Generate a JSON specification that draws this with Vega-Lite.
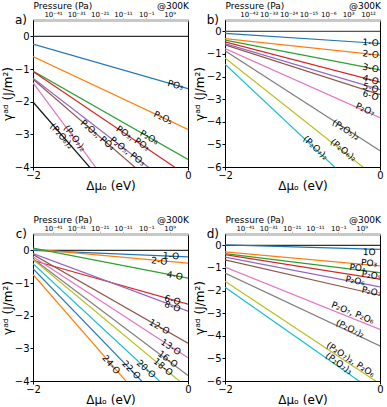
{
"$schema":"https://vega.github.io/schema/vega-lite/v6.json",
"padding":{"left":0,"top":0,"right":0,"bottom":0},
"columns":2,
"spacing":{"row":22,"column":0},
"resolve":{"scale":{"x":"independent","y":"independent","color":"independent","angle":"independent"}},
"config":{"font":"DejaVu Sans","view":{"stroke":"black","strokeWidth":1},
 "axis":{"grid":false,"labelFontSize":10,"titleFontSize":12,"titleFontWeight":"normal","tickColor":"black","domainColor":"black","labelColor":"black","titleColor":"black","labelFlush":false,"tickSize":3},
 "axisY":{"labelPadding":1,"titlePadding":0},
 "text":{"color":"black"}},
"datasets":{
"la":[
{"s":"zero","x":-2,"g":0},{"s":"zero","x":0,"g":0},
{"s":"PO₃","x":-2,"g":-0.24},{"s":"PO₃","x":0,"g":-1.6},
{"s":"P₂O₅","x":-2,"g":-0.62},{"s":"P₂O₅","x":0,"g":-2.85},
{"s":"P₂O₆","x":-2,"g":-1.06},{"s":"P₂O₆","x":0,"g":-3.77},
{"s":"PO₃, PO₃","x":-2,"g":-1.08},{"s":"PO₃, PO₃","x":0,"g":-4.28},
{"s":"P₂O₅, PO₃","x":-2,"g":-1.28},{"s":"P₂O₅, PO₃","x":0,"g":-4.94},
{"s":"P₂O₅, PO₄","x":-2,"g":-1.31},{"s":"P₂O₅, PO₄","x":0,"g":-5.41},
{"s":"(P₂O₇)₂","x":-2,"g":-1.42},{"s":"(P₂O₇)₂","x":0,"g":-7.82},
{"s":"(P₂O₆)₂","x":-2,"g":-2.01},{"s":"(P₂O₆)₂","x":0,"g":-7.47}],
"ta":[
{"t":"PO₃","x":-0.16,"g":-1.49,"k":-0.68},
{"t":"P₂O₅","x":-0.32,"g":-2.49,"k":-1.115},
{"t":"P₂O₆","x":-0.5,"g":-3.09,"k":-1.355},
{"t":"PO₃, PO₃","x":-0.71,"g":-3.12,"k":-1.6},
{"t":"P₂O₅, PO₃","x":-0.78,"g":-3.52,"k":-1.83},
{"t":"P₂O₅, PO₄","x":-1.165,"g":-3.02,"k":-2.05},
{"t":"(P₂O₇)₂","x":-1.46,"g":-3.12,"k":-3.2},
{"t":"(P₂O₆)₂","x":-1.63,"g":-3.05,"k":-2.73}],
"lb":[
{"s":"zero","x":-2,"g":0},{"s":"zero","x":0,"g":0},
{"s":"1-O","x":-2,"g":-0.09},{"s":"1-O","x":0,"g":-0.54},
{"s":"2-O","x":-2,"g":-0.32},{"s":"2-O","x":0,"g":-1.05},
{"s":"3-O","x":-2,"g":-0.39},{"s":"3-O","x":0,"g":-1.71},
{"s":"4-O","x":-2,"g":-0.47},{"s":"4-O","x":0,"g":-2.25},
{"s":"5-O","x":-2,"g":-0.54},{"s":"5-O","x":0,"g":-2.58},
{"s":"6-O","x":-2,"g":-0.6},{"s":"6-O","x":0,"g":-2.8},
{"s":"P₂O₇","x":-2,"g":-0.76},{"s":"P₂O₇","x":0,"g":-3.82},
{"s":"(P₂O₅)₂","x":-2,"g":-0.86},{"s":"(P₂O₅)₂","x":0,"g":-5.28},
{"s":"(P₂O₆)₂","x":-2,"g":-1.18},{"s":"(P₂O₆)₂","x":0,"g":-6.6},
{"s":"(P₂O₇)₂","x":-2,"g":-1.45},{"s":"(P₂O₇)₂","x":0,"g":-7.89}],
"tb":[
{"t":"1-O","x":-0.12,"g":-0.5,"k":-0.225},
{"t":"2-O","x":-0.12,"g":-1.01,"k":-0.365},
{"t":"3-O","x":-0.12,"g":-1.63,"k":-0.66},
{"t":"4-O","x":-0.12,"g":-2.14,"k":-0.89},
{"t":"5-O","x":-0.12,"g":-2.5,"k":-1.02},
{"t":"6-O","x":-0.12,"g":-2.83,"k":-1.1},
{"t":"P₂O₇","x":-0.19,"g":-3.45,"k":-1.53},
{"t":"(P₂O₅)₂","x":-0.44,"g":-4.35,"k":-2.21},
{"t":"(P₂O₆)₂","x":-0.47,"g":-5.25,"k":-2.71},
{"t":"(P₂O₇)₂","x":-0.83,"g":-5.15,"k":-3.22}],
"lc":[
{"s":"zero","x":-2,"g":0},{"s":"zero","x":0,"g":0},
{"s":"1-O","x":-2,"g":0.0},{"s":"1-O","x":0,"g":-0.2},
{"s":"2-O","x":-2,"g":0.04},{"s":"2-O","x":0,"g":-0.39},
{"s":"4-O","x":-2,"g":0.07},{"s":"4-O","x":0,"g":-0.85},
{"s":"6-O","x":-2,"g":-0.31},{"s":"6-O","x":0,"g":-1.65},
{"s":"8-O","x":-2,"g":-0.1},{"s":"8-O","x":0,"g":-1.86},
{"s":"12-O","x":-2,"g":-0.13},{"s":"12-O","x":0,"g":-2.84},
{"s":"13-O","x":-2,"g":-0.2},{"s":"13-O","x":0,"g":-3.29},
{"s":"16-O","x":-2,"g":-0.26},{"s":"16-O","x":0,"g":-3.83},
{"s":"18-O","x":-2,"g":-0.28},{"s":"18-O","x":0,"g":-4.22},
{"s":"20-O","x":-2,"g":-0.41},{"s":"20-O","x":0,"g":-4.81},
{"s":"22-O","x":-2,"g":-0.56},{"s":"22-O","x":0,"g":-5.47},
{"s":"24-O","x":-2,"g":-0.74},{"s":"24-O","x":0,"g":-6.18}],
"tc":[
{"t":"1-O","x":-0.22,"g":-0.17,"k":-0.1},
{"t":"2-O","x":-0.37,"g":-0.33,"k":-0.215},
{"t":"4-O","x":-0.17,"g":-0.77,"k":-0.46},
{"t":"6-O","x":-0.2,"g":-1.52,"k":-0.67},
{"t":"8-O","x":-0.2,"g":-1.72,"k":-0.88},
{"t":"12-O","x":-0.37,"g":-2.34,"k":-1.355},
{"t":"13-O","x":-0.22,"g":-2.96,"k":-1.545},
{"t":"16-O","x":-0.26,"g":-3.33,"k":-1.785},
{"t":"18-O","x":-0.32,"g":-3.57,"k":-1.97},
{"t":"20-O","x":-0.54,"g":-3.63,"k":-2.2},
{"t":"22-O","x":-0.73,"g":-3.66,"k":-2.46},
{"t":"24-O","x":-0.99,"g":-3.5,"k":-2.72}],
"ld":[
{"s":"zero","x":-2,"g":0},{"s":"zero","x":0,"g":0},
{"s":"1O","x":-2,"g":0.02},{"s":"1O","x":0,"g":-0.18},
{"s":"PO₃","x":-2,"g":-0.29},{"s":"PO₃","x":0,"g":-0.91},
{"s":"PO₄","x":-2,"g":-0.37},{"s":"PO₄","x":0,"g":-1.21},
{"s":"P₂O₅","x":-2,"g":-0.41},{"s":"P₂O₅","x":0,"g":-1.5},
{"s":"P₂O₆","x":-2,"g":-0.52},{"s":"P₂O₆","x":0,"g":-1.84},
{"s":"P₂O₇","x":-2,"g":-0.64},{"s":"P₂O₇","x":0,"g":-2.21},
{"s":"P₂O₇, P₂O₆","x":-2,"g":-0.96},{"s":"P₂O₇, P₂O₆","x":0,"g":-3.72},
{"s":"(P₂O₇)₂","x":-2,"g":-1.23},{"s":"(P₂O₇)₂","x":0,"g":-4.45},
{"s":"(P₂O₇)₂, P₂O₆","x":-2,"g":-1.59},{"s":"(P₂O₇)₂, P₂O₆","x":0,"g":-6.13},
{"s":"(P₂O₇)₃","x":-2,"g":-1.85},{"s":"(P₂O₇)₃","x":0,"g":-6.65}],
"td":[
{"t":"1O","x":-0.14,"g":-0.3,"k":-0.09},
{"t":"PO₃","x":-0.14,"g":-0.78,"k":-0.31},
{"t":"PO₄","x":-0.29,"g":-1.0,"k":-0.42},
{"t":"P₂O₅","x":-0.11,"g":-1.32,"k":-0.545},
{"t":"P₂O₆","x":-0.32,"g":-1.56,"k":-0.66},
{"t":"P₂O₇","x":-0.11,"g":-2.04,"k":-0.785},
{"t":"P₂O₇, P₂O₆","x":-0.35,"g":-2.98,"k":-1.38},
{"t":"(P₂O₇)₂","x":-0.385,"g":-3.68,"k":-1.61},
{"t":"(P₂O₇)₂, P₂O₆","x":-0.38,"g":-5.05,"k":-2.27},
{"t":"(P₂O₇)₃","x":-0.53,"g":-5.22,"k":-2.4}]
},
"concat":[
{"width":155,"height":147,
 "encoding":{"y":{"field":"g","type":"quantitative","scale":{"domain":[-4,0.5],"nice":false,"zero":false},"axis":{"values":[0,-1,-2,-3,-4],"format":"d","title":"γᵃᵈ (J/m²)"}}},
 "resolve":{"axis":{"x":"independent"}},
 "layer":[
  {"data":{"name":"la"},"mark":{"type":"line","clip":true,"strokeWidth":1.2},
   "encoding":{"x":{"field":"x","type":"quantitative","scale":{"domain":[-2,0],"nice":false,"zero":false},"axis":{"orient":"bottom","values":[-2,-1,0],"format":"d","title":"Δμₒ (eV)","labelPadding":0,"titlePadding":0}},
    "color":{"field":"s","type":"nominal","legend":null,"scale":{"domain":["zero","PO₃","P₂O₅","P₂O₆","PO₃, PO₃","P₂O₅, PO₃","P₂O₅, PO₄","(P₂O₇)₂","(P₂O₆)₂"],"range":["#333333","#1f77b4","#ff7f0e","#2ca02c","#d62728","#9467bd","#8c564b","#e377c2","#111111"]}}}},
  {"data":{"name":"ta"},"mark":{"type":"text","fontSize":9},
   "encoding":{"x":{"field":"x","type":"quantitative","axis":{"orient":"top","values":[-1.742,-1.441,-1.14,-0.839,-0.538,-0.237],"labelExpr":"datum.value < -1.6 ? '10⁻⁴¹' : datum.value < -1.3 ? '10⁻³¹' : datum.value < -1.0 ? '10⁻²¹' : datum.value < -0.7 ? '10⁻¹¹' : datum.value < -0.4 ? '10⁻¹' : '10⁹'","title":"Pressure (Pa)","titleAnchor":"start","titleAlign":"left","titleFontSize":9,"titlePadding":0,"labelFontSize":7,"labelPadding":1,"tickSize":2,"tickColor":"#888888","domainColor":"#c8c8c8","domainWidth":3,"labelOverlap":false,"labelBound":false}},
    "text":{"field":"t"},
    "angle":{"field":"k","type":"quantitative","legend":null,"scale":{"domain":[-3.5,-3,-2.5,-2,-1.5,-1,-0.5,0],"range":[55.8,51.6,46.4,40.0,32.2,22.8,11.9,0],"clamp":true,"nice":false,"zero":false}}}},
  {"data":{"values":[{"x":-2,"g":0.5,"t":"a)"}]},"mark":{"type":"text","align":"right","dx":-6,"fontSize":12},
   "encoding":{"x":{"field":"x","type":"quantitative","axis":null},"text":{"field":"t"}}},
  {"data":{"values":[{"x":0,"g":0.5,"t":"@300K"}]},"mark":{"type":"text","align":"right","dx":1,"dy":-14,"fontSize":9},
   "encoding":{"x":{"field":"x","type":"quantitative","axis":null},"text":{"field":"t"}}}
 ]},
{"width":155,"height":147,
 "encoding":{"y":{"field":"g","type":"quantitative","scale":{"domain":[-6,0.5],"nice":false,"zero":false},"axis":{"values":[0,-1,-2,-3,-4,-5,-6],"format":"d","title":"γᵃᵈ (J/m²)"}}},
 "resolve":{"axis":{"x":"independent"}},
 "layer":[
  {"data":{"name":"lb"},"mark":{"type":"line","clip":true,"strokeWidth":1.2},
   "encoding":{"x":{"field":"x","type":"quantitative","scale":{"domain":[-2,0],"nice":false,"zero":false},"axis":{"orient":"bottom","values":[-2,-1,0],"format":"d","title":"Δμₒ (eV)","labelPadding":0,"titlePadding":0}},
    "color":{"field":"s","type":"nominal","legend":null,"scale":{"domain":["zero","1-O","2-O","3-O","4-O","5-O","6-O","P₂O₇","(P₂O₅)₂","(P₂O₆)₂","(P₂O₇)₂"],"range":["#555555","#1f77b4","#ff7f0e","#2ca02c","#d62728","#9467bd","#8c564b","#e377c2","#7f7f7f","#bcbd22","#17becf"]}}}},
  {"data":{"name":"tb"},"mark":{"type":"text","fontSize":9},
   "encoding":{"x":{"field":"x","type":"quantitative","axis":{"orient":"top","values":[-1.692,-1.436,-1.18,-0.923,-0.667,-0.41,-0.154],"labelExpr":"datum.value < -1.55 ? '10⁻⁴²' : datum.value < -1.3 ? '10⁻³³' : datum.value < -1.05 ? '10⁻²⁴' : datum.value < -0.8 ? '10⁻¹⁵' : datum.value < -0.55 ? '10⁻⁶' : datum.value < -0.3 ? '10³' : '10¹²'","title":"Pressure (Pa)","titleAnchor":"start","titleAlign":"left","titleFontSize":9,"titlePadding":0,"labelFontSize":7,"labelPadding":1,"tickSize":2,"tickColor":"#888888","domainColor":"#c8c8c8","domainWidth":3,"labelOverlap":false,"labelBound":false}},
    "text":{"field":"t"},
    "angle":{"field":"k","type":"quantitative","legend":null,"scale":{"domain":[-3.5,-3,-2.5,-2,-1.5,-1,-0.5,0],"range":[45.7,41.3,36.2,30.4,23.7,16.3,8.3,0],"clamp":true,"nice":false,"zero":false}}}},
  {"data":{"values":[{"x":-2,"g":0.5,"t":"b)"}]},"mark":{"type":"text","align":"right","dx":-6,"fontSize":12},
   "encoding":{"x":{"field":"x","type":"quantitative","axis":null},"text":{"field":"t"}}},
  {"data":{"values":[{"x":0,"g":0.5,"t":"@300K"}]},"mark":{"type":"text","align":"right","dx":1,"dy":-14,"fontSize":9},
   "encoding":{"x":{"field":"x","type":"quantitative","axis":null},"text":{"field":"t"}}}
 ]},
{"width":155,"height":147,
 "encoding":{"y":{"field":"g","type":"quantitative","scale":{"domain":[-4,0.5],"nice":false,"zero":false},"axis":{"values":[0,-1,-2,-3,-4],"format":"d","title":"γᵃᵈ (J/m²)"}}},
 "resolve":{"axis":{"x":"independent"}},
 "layer":[
  {"data":{"name":"lc"},"mark":{"type":"line","clip":true,"strokeWidth":1.2},
   "encoding":{"x":{"field":"x","type":"quantitative","scale":{"domain":[-2,0],"nice":false,"zero":false},"axis":{"orient":"bottom","values":[-2,-1,0],"format":"d","title":"Δμₒ (eV)","labelPadding":0,"titlePadding":0}},
    "color":{"field":"s","type":"nominal","legend":null,"scale":{"domain":["zero","1-O","2-O","4-O","6-O","8-O","12-O","13-O","16-O","18-O","20-O","22-O","24-O"],"range":["#333333","#1f77b4","#ff7f0e","#2ca02c","#d62728","#9467bd","#8c564b","#e377c2","#7f7f7f","#bcbd22","#17becf","#1f77b4","#ff7f0e"]}}}},
  {"data":{"name":"tc"},"mark":{"type":"text","fontSize":9},
   "encoding":{"x":{"field":"x","type":"quantitative","axis":{"orient":"top","values":[-1.742,-1.441,-1.14,-0.839,-0.538,-0.237],"labelExpr":"datum.value < -1.6 ? '10⁻⁴¹' : datum.value < -1.3 ? '10⁻³¹' : datum.value < -1.0 ? '10⁻²¹' : datum.value < -0.7 ? '10⁻¹¹' : datum.value < -0.4 ? '10⁻¹' : '10⁹'","title":"Pressure (Pa)","titleAnchor":"start","titleAlign":"left","titleFontSize":9,"titlePadding":0,"labelFontSize":7,"labelPadding":1,"tickSize":2,"tickColor":"#888888","domainColor":"#c8c8c8","domainWidth":3,"labelOverlap":false,"labelBound":false}},
    "text":{"field":"t"},
    "angle":{"field":"k","type":"quantitative","legend":null,"scale":{"domain":[-3.5,-3,-2.5,-2,-1.5,-1,-0.5,0],"range":[55.8,51.6,46.4,40.0,32.2,22.8,11.9,0],"clamp":true,"nice":false,"zero":false}}}},
  {"data":{"values":[{"x":-2,"g":0.5,"t":"c)"}]},"mark":{"type":"text","align":"right","dx":-6,"fontSize":12},
   "encoding":{"x":{"field":"x","type":"quantitative","axis":null},"text":{"field":"t"}}},
  {"data":{"values":[{"x":0,"g":0.5,"t":"@300K"}]},"mark":{"type":"text","align":"right","dx":1,"dy":-14,"fontSize":9},
   "encoding":{"x":{"field":"x","type":"quantitative","axis":null},"text":{"field":"t"}}}
 ]},
{"width":155,"height":147,
 "encoding":{"y":{"field":"g","type":"quantitative","scale":{"domain":[-6,0.5],"nice":false,"zero":false},"axis":{"values":[0,-1,-2,-3,-4,-5,-6],"format":"d","title":"γᵃᵈ (J/m²)"}}},
 "resolve":{"axis":{"x":"independent"}},
 "layer":[
  {"data":{"name":"ld"},"mark":{"type":"line","clip":true,"strokeWidth":1.2},
   "encoding":{"x":{"field":"x","type":"quantitative","scale":{"domain":[-2,0],"nice":false,"zero":false},"axis":{"orient":"bottom","values":[-2,-1,0],"format":"d","title":"Δμₒ (eV)","labelPadding":0,"titlePadding":0}},
    "color":{"field":"s","type":"nominal","legend":null,"scale":{"domain":["zero","1O","PO₃","PO₄","P₂O₅","P₂O₆","P₂O₇","P₂O₇, P₂O₆","(P₂O₇)₂","(P₂O₇)₂, P₂O₆","(P₂O₇)₃"],"range":["#333333","#1f77b4","#ff7f0e","#2ca02c","#d62728","#9467bd","#8c564b","#e377c2","#7f7f7f","#bcbd22","#17becf"]}}}},
  {"data":{"name":"td"},"mark":{"type":"text","fontSize":9},
   "encoding":{"x":{"field":"x","type":"quantitative","axis":{"orient":"top","values":[-1.742,-1.441,-1.14,-0.839,-0.538,-0.237],"labelExpr":"datum.value < -1.6 ? '10⁻⁴¹' : datum.value < -1.3 ? '10⁻³¹' : datum.value < -1.0 ? '10⁻²¹' : datum.value < -0.7 ? '10⁻¹¹' : datum.value < -0.4 ? '10⁻¹' : '10⁹'","title":"Pressure (Pa)","titleAnchor":"start","titleAlign":"left","titleFontSize":9,"titlePadding":0,"labelFontSize":7,"labelPadding":1,"tickSize":2,"tickColor":"#888888","domainColor":"#c8c8c8","domainWidth":3,"labelOverlap":false,"labelBound":false}},
    "text":{"field":"t"},
    "angle":{"field":"k","type":"quantitative","legend":null,"scale":{"domain":[-3.5,-3,-2.5,-2,-1.5,-1,-0.5,0],"range":[45.7,41.3,36.2,30.4,23.7,16.3,8.3,0],"clamp":true,"nice":false,"zero":false}}}},
  {"data":{"values":[{"x":-2,"g":0.5,"t":"d)"}]},"mark":{"type":"text","align":"right","dx":-6,"fontSize":12},
   "encoding":{"x":{"field":"x","type":"quantitative","axis":null},"text":{"field":"t"}}},
  {"data":{"values":[{"x":0,"g":0.5,"t":"@300K"}]},"mark":{"type":"text","align":"right","dx":1,"dy":-14,"fontSize":9},
   "encoding":{"x":{"field":"x","type":"quantitative","axis":null},"text":{"field":"t"}}}
 ]}
]
}
